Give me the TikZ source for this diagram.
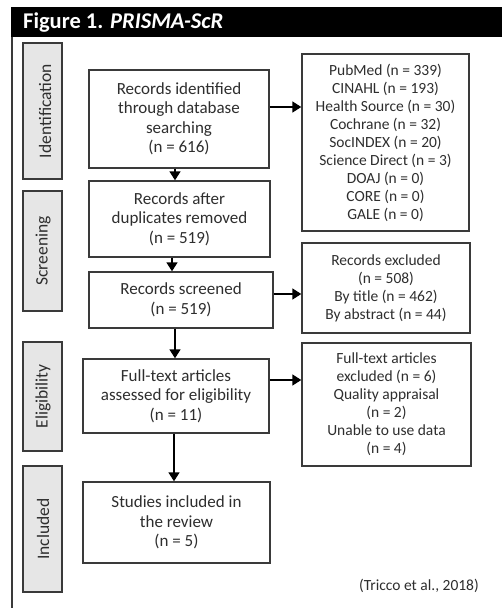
\documentclass[tikz,border=0pt]{standalone}
\usepackage{fontspec}
\setmainfont{Carlito}
\usetikzlibrary{arrows.meta}
\definecolor{txt}{HTML}{2E2E2E}
\definecolor{edge}{HTML}{3A3A3A}
\definecolor{phasefill}{HTML}{E6E6E6}
\tikzset{
  mainbox/.style={draw=edge, line width=1.4pt, fill=white, inner sep=2pt, align=center, text=txt,
    font=\fontsize{17}{19.5}\selectfont},
  sidebox/.style={draw=edge, line width=1.4pt, fill=white, inner sep=2pt, align=center, text=txt,
    font=\fontsize{15.5}{18}\selectfont},
  phasebox/.style={draw=edge, line width=1.4pt, fill=phasefill, minimum width=39pt},
  phaselabel/.style={rotate=90, text=txt, font=\fontsize{17.5}{20}\selectfont},
  flow/.style={line width=1.6pt, draw=black, -{Triangle[width=11pt,length=9pt]}}
}
\begin{document}
\begin{tikzpicture}[x=1pt,y=-1pt]
\useasboundingbox (0,0) rectangle (502,608);
\fill[white] (0,0) rectangle (502,608);
% frame
\fill[black] (11,7) rectangle (502,37);
\draw[edge, line width=1.4pt] (12,37) -- (12,608);
\node[anchor=west, text=white, font=\fontsize{22.5}{26}\selectfont\bfseries, inner sep=0pt] (title) at (23,23) {Figure 1. \textit{PRISMA-ScR}};

% phase labels
\node[phasebox, minimum height=136pt] (p1) at (42.5,111) {};
\node[phaselabel] (p1t) at (45,111) {Identification};
\node[phasebox, minimum height=120pt] (p2) at (42.5,251) {};
\node[phaselabel] (p2t) at (43,251) {Screening};
\node[phasebox, minimum height=109pt] (p3) at (42.5,396.5) {};
\node[phaselabel] (p3t) at (43,396.5) {Eligibility};
\node[phasebox, minimum height=126pt] (p4) at (42.5,529) {};
\node[phaselabel] (p4t) at (43,529) {Included};

% main boxes
\node[mainbox, minimum width=180pt, minimum height=98pt] (b1) at (179,119)
  {Records identified\\through database\\searching\\(n = 616)};
\node[mainbox, minimum width=181pt, minimum height=76pt] (b2) at (179.5,219)
  {Records after\\duplicates removed\\(n = 519)};
\node[mainbox, minimum width=184pt, minimum height=56pt] (b3) at (181,300)
  {Records screened\\(n = 519)};
\node[mainbox, minimum width=186pt, minimum height=74pt] (b4) at (176,396)
  {Full-text articles\\assessed for eligibility\\(n = 11)};
\node[mainbox, minimum width=187pt, minimum height=81pt] (b5) at (176.5,522.5)
  {Studies included in\\the review\\(n = 5)};

% side boxes
\node[sidebox, minimum width=167pt, minimum height=177pt] (r1) at (385.5,142.5)
  {PubMed (n = 339)\\CINAHL (n = 193)\\Health Source (n = 30)\\Cochrane (n = 32)\\SocINDEX (n = 20)\\Science Direct (n = 3)\\DOAJ (n = 0)\\CORE (n = 0)\\GALE (n = 0)};
\node[sidebox, minimum width=168pt, minimum height=90pt] (r2) at (386,288)
  {Records excluded\\(n = 508)\\By title (n = 462)\\By abstract (n = 44)};
\node[sidebox, minimum width=169pt, minimum height=123pt] (r3) at (386.5,404.5)
  {Full-text articles\\excluded (n = 6)\\Quality appraisal\\(n = 2)\\Unable to use data\\(n = 4)};

% citation
\node[anchor=east, text=txt, font=\fontsize{15.5}{18}\selectfont, inner sep=0pt] (cite) at (479,586) {(Tricco et al., 2018)};

% arrows
\draw[flow] ([xshift=-4pt]b1.south) -- ([xshift=-4pt]b1.south |- b2.north);
\draw[flow] ([xshift=-7.5pt]b2.south) -- ([xshift=-7.5pt]b2.south |- b3.north);
\draw[flow] ([xshift=-6pt]b3.south) -- ([xshift=-6pt]b3.south |- b4.north);
\draw[flow] ([xshift=-2pt]b4.south) -- ([xshift=-2pt]b4.south |- b5.north);
\draw[flow] ([yshift=12pt]b1.east) -- ([yshift=12pt]b1.east -| r1.west);
\draw[flow] ([yshift=6pt]b3.east) -- ([yshift=6pt]b3.east -| r2.west);
\draw[flow] ([yshift=16pt]b4.east) -- ([yshift=16pt]b4.east -| r3.west);
\end{tikzpicture}
\end{document}
